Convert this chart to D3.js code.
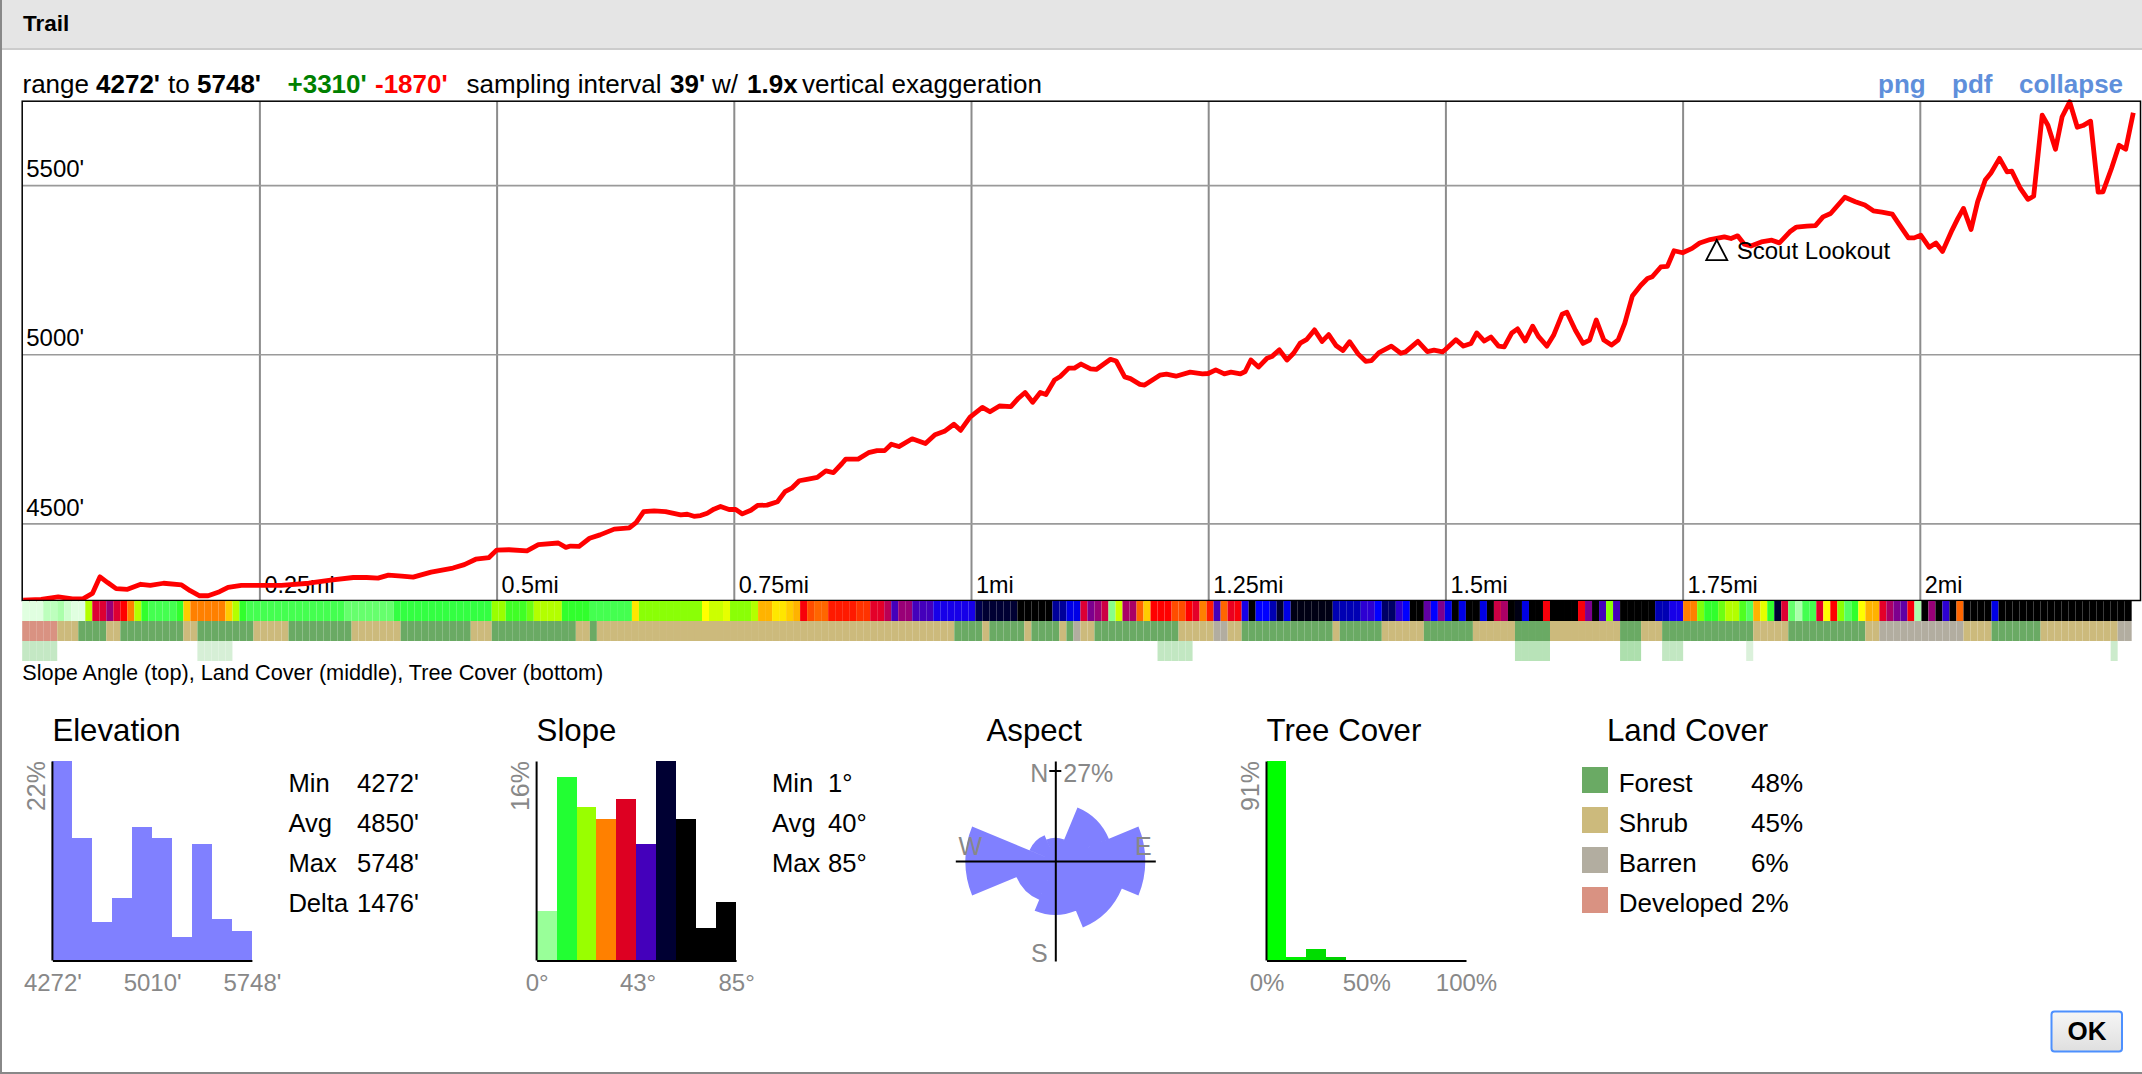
<!DOCTYPE html>
<html>
<head>
<meta charset="utf-8">
<title>Trail</title>
<script src="https://cdn.jsdelivr.net/npm/d3@7/dist/d3.min.js"></script>
<style>
  html, body { margin: 0; padding: 0; background: #fff; }
  svg { display: block; }
  text { font-family: "Liberation Sans", Arial, sans-serif; }
</style>
</head>
<body>
<svg id="panel" width="2142" height="1074"></svg>
<script>
// Elevation profile, as distance along the trail (miles) and height (feet)
const trailMiles = [
  0.001,0.020,0.038,0.053,0.064,0.074,0.082,0.090,0.099,0.111,0.125,0.135,0.149,0.168,0.177,0.187,0.196,0.208,0.217,0.231,
  0.255,0.273,0.302,0.325,0.349,0.363,0.375,0.386,0.400,0.412,0.431,0.454,0.466,0.478,0.492,0.500,0.513,0.532,0.544,0.565,
  0.573,0.578,0.587,0.598,0.609,0.624,0.640,0.647,0.655,0.666,0.678,0.694,0.701,0.708,0.715,0.722,0.729,0.736,0.745,0.752,
  0.759,0.768,0.775,0.785,0.796,0.804,0.811,0.819,0.827,0.838,0.847,0.855,0.864,0.868,0.881,0.892,0.901,0.909,0.916,0.924,
  0.938,0.952,0.962,0.972,0.982,0.989,0.999,1.012,1.020,1.030,1.042,1.050,1.057,1.065,1.073,1.079,1.088,1.094,1.103,1.109,
  1.116,1.126,1.132,1.147,1.153,1.162,1.168,1.178,1.183,1.199,1.206,1.216,1.231,1.244,1.250,1.258,1.267,1.274,1.284,1.289,
  1.295,1.303,1.312,1.317,1.325,1.333,1.340,1.347,1.354,1.362,1.370,1.377,1.385,1.392,1.399,1.408,1.416,1.422,1.430,1.443,
  1.453,1.458,1.471,1.481,1.488,1.497,1.500,1.511,1.519,1.527,1.533,1.541,1.548,1.556,1.562,1.570,1.576,1.584,1.592,1.598,
  1.607,1.614,1.623,1.628,1.637,1.645,1.652,1.659,1.667,1.675,1.682,1.689,1.697,1.706,1.713,1.718,1.727,1.734,1.741,1.750,
  1.760,1.768,1.779,1.794,1.801,1.808,1.815,1.822,1.833,1.844,1.852,1.863,1.870,1.881,1.890,1.898,1.906,1.921,1.932,1.942,
  1.951,1.960,1.971,1.977,1.988,1.994,2.001,2.010,2.017,2.024,2.034,2.040,2.046,2.054,2.061,2.069,2.075,2.084,2.092,2.097,
  2.106,2.114,2.120,2.129,2.135,2.143,2.150,2.158,2.166,2.172,2.180,2.188,2.193,2.202,2.210,2.217,2.225
];
const trailFeet = [
  4273,4275,4283,4277,4277,4293,4342,4325,4307,4305,4320,4317,4323,4318,4301,4286,4286,4298,4311,4317,
  4317,4317,4323,4332,4340,4340,4338,4347,4344,4341,4356,4368,4378,4394,4399,4421,4422,4419,4437,4442,
  4429,4433,4432,4456,4466,4483,4487,4502,4535,4537,4535,4525,4527,4521,4523,4530,4542,4550,4541,4541,
  4528,4539,4553,4554,4564,4594,4604,4626,4630,4636,4655,4650,4677,4690,4690,4709,4715,4715,4734,4727,
  4750,4736,4762,4772,4793,4775,4814,4843,4830,4847,4845,4870,4887,4858,4887,4881,4924,4934,4959,4959,
  4971,4957,4955,4985,4980,4933,4928,4911,4909,4938,4941,4935,4947,4942,4943,4954,4942,4947,4942,4949,
  4983,4962,4988,4993,5013,4983,5003,5033,5044,5072,5038,5058,5025,5011,5037,5001,4979,4981,5005,5024,
  5003,5007,5038,5008,5012,5007,5014,5043,5024,5032,5063,5039,5051,5024,5022,5063,5075,5039,5083,5053,
  5024,5056,5118,5124,5071,5032,5042,5101,5042,5027,5042,5091,5172,5204,5224,5229,5258,5260,5306,5300,
  5313,5329,5339,5347,5342,5350,5325,5320,5332,5337,5329,5362,5376,5379,5380,5406,5416,5464,5451,5441,
  5424,5420,5414,5389,5344,5344,5352,5316,5329,5304,5367,5401,5431,5369,5451,5515,5536,5579,5539,5541,
  5490,5458,5467,5707,5677,5606,5702,5746,5671,5676,5689,5479,5480,5549,5618,5606,5714
];

// Grid and labelled ticks of the profile
const mileTicks = [0.25, 0.5, 0.75, 1, 1.25, 1.5, 1.75, 2];
const footTicks = [4500, 5000, 5500];

// Slope angle in degrees for each sampling step along the trail
const slopeCells = [
  1,1,1,3,3,4,2,1,1,21,39,39,43,39,34,29,21,13,10,10,10,10,13,26,29,29,29,29,29,26,21,13,
  10,10,10,10,10,10,10,10,10,10,10,10,10,10,8,8,8,8,8,8,8,11,11,11,11,11,11,11,11,11,11,11,11,11,11,
  20,20,14,14,14,17,21,21,21,21,13,13,13,13,10,10,10,10,10,10,25,19,19,19,19,19,19,19,19,19,
  24,22,22,23,19,19,19,21,27,27,25,25,26,27,35,31,30,30,33,33,33,33,32,32,38,38,41,46,43,43,46,46,46,
  48,48,48,48,48,48,56,57,57,57,57,57,62,62,62,62,62,53,53,50,50,39,44,43,40,6,22,42,42,30,26,34,34,34,
  31,31,34,38,29,33,46,30,37,35,48,62,49,49,52,57,50,60,60,60,60,60,60,52,52,52,52,47,47,49,55,55,
  47,49,62,62,45,49,44,50,62,50,62,62,50,62,40,42,62,60,50,62,62,35,62,62,62,62,35,44,62,46,19,46,
  62,62,62,62,62,52,52,48,48,29,29,18,13,13,17,21,21,15,9,27,23,13,57,39,8,4,10,10,38,24,34,19,9,13,
  24,27,27,38,42,44,45,35,4,62,43,62,47,62,30,62,62,62,62,50,
  62,62,62,62,62,62,62,62,62,62,62,62,62,62,62,62,62,62,62
];

// Land cover along the trail as runs of sampling steps
const landRunKinds = [
  "Developed","Shrub","Forest","Shrub","Forest","Shrub","Forest","Shrub","Forest","Shrub","Forest","Shrub","Forest","Shrub","Forest",
  "Shrub","Forest","Shrub","Forest","Shrub","Forest","Shrub","Forest","Barren","Shrub","Forest","Shrub","Barren","Shrub","Forest","Shrub","Forest",
  "Shrub","Forest","Shrub","Forest","Shrub","Forest","Shrub","Forest","Shrub","Forest","Shrub","Barren","Shrub","Forest","Shrub","Barren"
];
const landRunSteps = [
  5,3,4,2,9,2,8,5,9,7,10,3,12,2,1,
  51,4,1,5,1,4,1,1,1,2,12,5,2,2,13,1,6,
  6,7,6,5,10,3,3,13,5,11,2,12,4,7,11,2
];

// Tree cover (percent) at the steps that have any
const treeSteps = [0,1,2,3,4,25,26,27,28,29,162,163,164,165,166,213,214,215,216,217,228,229,230,234,235,236,246,298];
const treePercents = [23,23,23,23,23,16,16,16,16,16,24,24,24,24,24,28,28,28,28,28,32,32,32,24,24,24,14,20];

// Histograms: share of the trail per bin, in percent
const elevationShares = [22,13.45,4.16,6.82,14.74,13.45,2.54,12.79,4.5,3.2];
const elevationTicks = [4272,5010,5748];
const slopeShares = [3.94,14.69,12.3,11.31,12.97,9.3,16,11.31,2.6,4.64];
const slopeTicks = [0,43,85];
const slopeBinColors = ["#99ff99","#22ff33","#99ff00","#ff8000","#dd0022","#4400bb","#000033","#000000","#000000","#000000"];
const treeShares = [91,1.5,4.9,1.5,0,0,0,0,0,0];
const treeTicks = [0,50,100];
const treeBinColors = ["#00ff00","#00ee00","#00dd00","#00d000","#00c000","#00b000","#00a000","#009000","#008000","#007000"];

// Aspect rose: share of slope facing each of eight directions, in percent
const aspectDirections = ["N","NE","E","SE","S","SW","W","NW"];
const aspectShares = [1.8,11.2,27,17.3,9.7,5.9,27,2.6];

// Summary tables
const elevationStatNames = ["Min","Avg","Max","Delta"];
const elevationStatValues = ["4272'","4850'","5748'","1476'"];
const slopeStatNames = ["Min","Avg","Max"];
const slopeStatValues = ["1°","40°","85°"];
const landNames = ["Forest","Shrub","Barren","Developed"];
const landPercents = ["48%","45%","6%","2%"];
const landColors = ["#6aaa64","#ccba7c","#b2ada0","#d99282"];

const SAMPLE_MILES = 39 / 5280;
const GRAY = "#888888";
const BODY = 25.6;
const AXIS = 24;
const TITLE = 31.2;

const svg = d3.select("#panel");

/* ---------- dialog chrome ---------- */
svg.append("rect").attr("width", 2142).attr("height", 1074).attr("fill", "#fff");
svg.append("rect").attr("width", 2142).attr("height", 48).attr("fill", "#e5e5e5");
svg.append("rect").attr("y", 48).attr("width", 2142).attr("height", 2).attr("fill", "#cccccc");
svg.append("rect").attr("width", 2).attr("height", 1074).attr("fill", GRAY);
svg.append("rect").attr("y", 1072).attr("width", 2142).attr("height", 2).attr("fill", GRAY);
svg.append("text").attr("x", 23).attr("y", 30.5).attr("font-size", 22.5).attr("font-weight", "bold").text("Trail");

/* ---------- summary line ---------- */
const headParts = [
  { t: "range", x: 22.5 }, { t: "4272'", x: 96, b: 1 }, { t: "to", x: 168 }, { t: "5748'", x: 197, b: 1 },
  { t: "+3310'", x: 287.5, b: 1, c: "#008000" }, { t: "-1870'", x: 375, b: 1, c: "#ff0000" },
  { t: "sampling interval", x: 466.5 }, { t: "39'", x: 670, b: 1 }, { t: "w/", x: 712 },
  { t: "1.9x", x: 747, b: 1 }, { t: "vertical exaggeration", x: 802 }
];
svg.append("g").selectAll("text").data(headParts).join("text")
  .attr("x", d => d.x).attr("y", 92.5).attr("font-size", 26)
  .attr("font-weight", d => d.b ? "bold" : null)
  .attr("fill", d => d.c || "#000").text(d => d.t);

const linkParts = [{ t: "png", x: 1878 }, { t: "pdf", x: 1952 }, { t: "collapse", x: 2019 }];
svg.append("g").selectAll("text").data(linkParts).join("text")
  .attr("x", d => d.x).attr("y", 92.5).attr("font-size", 26)
  .attr("font-weight", "bold").attr("fill", "#5f8fdb").text(d => d.t);

/* ---------- elevation profile ---------- */
const frame = { left: 22.2, right: 2140.5, top: 101.2, bottom: 600.5 };
const xMile = d3.scaleLinear().domain([0, 2.2326]).range([frame.left, frame.right]);
const yFoot = d3.scaleLinear().domain([4272, 5748]).range([frame.bottom, frame.top]);

const gridX = svg.append("g").attr("transform", `translate(0,${frame.bottom})`)
  .call(d3.axisTop(xMile).tickValues(mileTicks).tickSize(frame.bottom - frame.top).tickFormat(d => d + "mi"));
gridX.select(".domain").remove();
gridX.selectAll("line").attr("stroke", "#8c8c8c").attr("stroke-width", 2);
gridX.selectAll("text").attr("text-anchor", "start").attr("x", 4.5).attr("y", -7.5).attr("dy", 0)
  .attr("font-size", 23.4).attr("font-family", null).attr("fill", "#000");

const gridY = svg.append("g").attr("transform", `translate(${frame.left},0)`)
  .call(d3.axisRight(yFoot).tickValues(footTicks).tickSize(frame.right - frame.left).tickFormat(d => d + "'"));
gridY.select(".domain").remove();
gridY.selectAll("line").attr("stroke", "#9a9a9a").attr("stroke-width", 1.6);
gridY.selectAll("text").attr("text-anchor", "start").attr("x", 4).attr("y", -8.3).attr("dy", 0)
  .attr("font-size", 24).attr("font-family", null).attr("fill", "#000");

const profile = d3.line().x(d => xMile(d)).y((d, i) => yFoot(trailFeet[i]));
svg.append("path").datum(trailMiles).attr("d", profile)
  .attr("fill", "none").attr("stroke", "#ff0000").attr("stroke-width", 4.8).attr("stroke-linejoin", "round");

svg.append("rect")
  .attr("x", frame.left).attr("y", frame.top)
  .attr("width", frame.right - frame.left).attr("height", frame.bottom - frame.top)
  .attr("fill", "none").attr("stroke", "#000").attr("stroke-width", 1.5);

// Named waypoint
const scout = { mile: 1.786, foot: 5327, name: "Scout Lookout" };
const sx = xMile(scout.mile), sy = yFoot(scout.foot);
svg.append("path")
  .attr("d", d3.line()([[sx, sy - 3.6], [sx + 10.5, sy + 16.5], [sx - 10.5, sy + 16.5]]) + "Z")
  .attr("fill", "none").attr("stroke", "#000").attr("stroke-width", 1.8);
svg.append("text").attr("x", sx + 20).attr("y", sy + 15.5).attr("font-size", 24).text(scout.name);

/* ---------- strips below the profile ---------- */
const slopeRamp = d3.scaleLinear()
  .domain([0, 5, 12, 20, 24, 29, 34, 39, 43, 46, 49, 53, 57, 62])
  .range(["#f2fff2", "#99ff99", "#22ff33", "#99ff00", "#ffff00", "#ff8000", "#ff0000", "#dd0033",
          "#990077", "#4400bb", "#0000ff", "#000099", "#000033", "#000000"]);
const landColor = d3.scaleOrdinal().domain(landNames).range(landColors);
const treeColor = d3.scaleLinear().domain([0, 100]).range(["#ffffff", "#009a00"]);
const stepX = i => xMile(i * SAMPLE_MILES);

svg.append("g").selectAll("rect").data(slopeCells).join("rect")
  .attr("x", (d, i) => stepX(i)).attr("width", (d, i) => stepX(i + 1) - stepX(i))
  .attr("y", 601).attr("height", 20).attr("fill", d => slopeRamp(d));

const landCells = landRunKinds.flatMap((k, i) => d3.range(landRunSteps[i]).map(() => k));
svg.append("g").selectAll("rect").data(landCells).join("rect")
  .attr("x", (d, i) => stepX(i)).attr("width", (d, i) => stepX(i + 1) - stepX(i))
  .attr("y", 621).attr("height", 20).attr("fill", d => landColor(d));

svg.append("g").selectAll("rect").data(treeSteps).join("rect")
  .attr("x", d => stepX(d)).attr("width", d => stepX(d + 1) - stepX(d))
  .attr("y", 641).attr("height", 20).attr("fill", (d, i) => treeColor(treePercents[i]));

svg.append("text").attr("x", 22.3).attr("y", 680).attr("font-size", 21.7)
  .text("Slope Angle (top), Land Cover (middle), Tree Cover (bottom)");

/* ---------- histograms ---------- */
function histogram(o) {
  const g = svg.append("g");
  const x = d3.scaleLinear().domain(o.domain).range([o.left, o.left + 199.5]);
  const y = d3.scaleLinear().domain([0, o.max]).range([960, 761]);
  const bin = (o.domain[1] - o.domain[0]) / o.shares.length;
  g.append("g").attr("shape-rendering", "crispEdges").selectAll("rect").data(o.shares).join("rect")
    .attr("x", (d, i) => x(o.domain[0] + i * bin))
    .attr("width", (d, i) => x(o.domain[0] + (i + 1) * bin) - x(o.domain[0] + i * bin))
    .attr("y", d => y(d)).attr("height", d => y(0) - y(d))
    .attr("fill", o.fill);
  const xa = g.append("g").attr("transform", "translate(0,960.5)")
    .call(d3.axisBottom(x).tickValues(o.ticks).tickSize(0).tickFormat(o.format));
  xa.select(".domain").attr("stroke", "#000").attr("stroke-width", 2);
  xa.selectAll("text").attr("y", 30.5).attr("dy", 0).attr("font-size", AXIS)
    .attr("font-family", null).attr("fill", GRAY);
  const ya = g.append("g").attr("transform", `translate(${o.left - 0.5},0)`)
    .call(d3.axisLeft(y).tickValues([]).tickSize(0));
  ya.select(".domain").attr("stroke", "#000").attr("stroke-width", 2);
  g.append("text")
    .attr("transform", `translate(${o.left - 7.5},761) rotate(-90)`)
    .attr("text-anchor", "end").attr("font-size", 25).attr("fill", GRAY).text(o.max + "%");
  svg.append("text").attr("x", o.titleX).attr("y", 740.5).attr("font-size", TITLE).text(o.title);
}

histogram({ title: "Elevation", titleX: 52.4, left: 52.4, domain: [4272, 5748], shares: elevationShares,
  max: 22, ticks: elevationTicks, format: d => d + "'", fill: "#8080ff" });
histogram({ title: "Slope", titleX: 536.6, left: 536.6, domain: [0, 85], shares: slopeShares,
  max: 16, ticks: slopeTicks, format: d => d + "°", fill: (d, i) => slopeBinColors[i] });
histogram({ title: "Tree Cover", titleX: 1266.5, left: 1266.5, domain: [0, 100], shares: treeShares,
  max: 91, ticks: treeTicks, format: d => d + "%", fill: (d, i) => treeBinColors[i] });

/* ---------- summary tables ---------- */
function table(names, values, xName, xValue) {
  const g = svg.append("g");
  g.selectAll(".n").data(names).join("text").attr("class", "n")
    .attr("x", xName).attr("y", (d, i) => 791.7 + i * 40).attr("font-size", BODY).text(d => d);
  g.selectAll(".v").data(values).join("text").attr("class", "v")
    .attr("x", xValue).attr("y", (d, i) => 791.7 + i * 40).attr("font-size", BODY).text(d => d);
}
table(elevationStatNames, elevationStatValues, 288.4, 357);
table(slopeStatNames, slopeStatValues, 772, 828);

/* ---------- aspect rose ---------- */
const rose = svg.append("g").attr("transform", "translate(1055.3,861)");
const rScale = d3.scaleSqrt().domain([0, 27]).range([0, 90]);
const sector = Math.PI / 4;
// All sectors share one path so no seams show between them
rose.append("path")
  .attr("d", aspectShares.map((d, i) => d3.arc()({
    innerRadius: 0, outerRadius: rScale(d),
    startAngle: (i - 0.5) * sector, endAngle: (i + 0.5) * sector
  })).join(""))
  .attr("fill", "#8080ff");
const roseAxisX = d3.scaleLinear().domain([-100, 100]).range([-100, 100]);
const roseAxisY = d3.scaleLinear().domain([-100, 100]).range([-100, 100]);
const rx = rose.append("g").call(d3.axisBottom(roseAxisX).tickValues([]).tickSize(0));
const ry = rose.append("g").call(d3.axisLeft(roseAxisY).tickValues([]).tickSize(0));
rx.select(".domain").attr("stroke", "#000").attr("stroke-width", 2);
ry.select(".domain").attr("stroke", "#000").attr("stroke-width", 2);
rose.append("line").attr("x1", -6).attr("x2", 6)
  .attr("y1", -rScale(27)).attr("y2", -rScale(27)).attr("stroke", "#000").attr("stroke-width", 2);
const compass = [
  { t: "N", x: -16, y: -79, a: "middle" }, { t: "27%", x: 8, y: -79, a: "start" },
  { t: "E", x: 88, y: -6, a: "middle" }, { t: "W", x: -85, y: -6, a: "middle" },
  { t: "S", x: -16, y: 100.5, a: "middle" }
];
rose.selectAll("text").data(compass).join("text")
  .attr("x", d => d.x).attr("y", d => d.y).attr("text-anchor", d => d.a)
  .attr("font-size", 25).attr("fill", GRAY).text(d => d.t);
svg.append("text").attr("x", 986.5).attr("y", 740.5).attr("font-size", TITLE).text("Aspect");

/* ---------- land cover legend ---------- */
svg.append("text").attr("x", 1607).attr("y", 740.5).attr("font-size", TITLE).text("Land Cover");
const legend = svg.append("g");
legend.selectAll("rect").data(landNames).join("rect")
  .attr("x", 1582).attr("y", (d, i) => 767 + i * 40).attr("width", 26).attr("height", 26)
  .attr("fill", d => landColor(d));
legend.selectAll(".name").data(landNames).join("text").attr("class", "name")
  .attr("x", 1618.7).attr("y", (d, i) => 791.7 + i * 40).attr("font-size", 26).text(d => d);
legend.selectAll(".pct").data(landPercents).join("text").attr("class", "pct")
  .attr("x", 1751).attr("y", (d, i) => 791.7 + i * 40).attr("font-size", 26).text(d => d);

/* ---------- OK button ---------- */
const grad = svg.append("defs").append("linearGradient").attr("id", "okFill")
  .attr("x1", 0).attr("y1", 0).attr("x2", 0).attr("y2", 1);
grad.append("stop").attr("offset", 0).attr("stop-color", "#f6f6f6");
grad.append("stop").attr("offset", 1).attr("stop-color", "#dfdfdf");
svg.append("rect").attr("x", 2051.5).attr("y", 1011.5).attr("width", 70.5).attr("height", 40).attr("rx", 3)
  .attr("fill", "url(#okFill)").attr("stroke", "#4d90fe").attr("stroke-width", 2);
svg.append("text").attr("x", 2087).attr("y", 1040).attr("text-anchor", "middle")
  .attr("font-size", 26).attr("font-weight", "bold").text("OK");
</script>
</body>
</html>
